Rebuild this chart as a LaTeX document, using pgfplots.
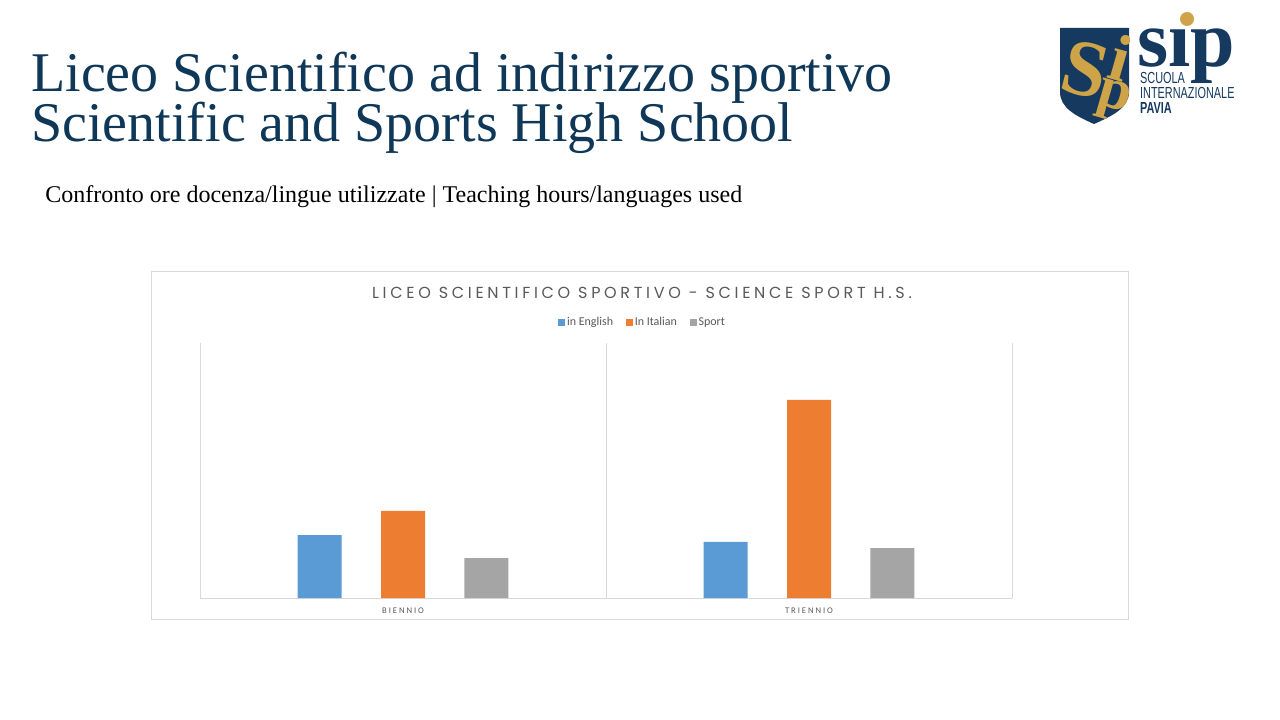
\documentclass[border=0pt]{standalone}
\usepackage{fontspec}
\setmainfont{Liberation Serif}
\newfontfamily\carlito{Carlito}
\newfontfamily\poppins[LetterSpace=23]{Poppins}
\newfontfamily\arial{Liberation Sans}
\newfontfamily\spacedcarlito[LetterSpace=22]{Carlito}
\usepackage{pgfplots}
\pgfplotsset{compat=1.18}
\definecolor{titleblue}{HTML}{0E3758}
\definecolor{navy}{HTML}{163A5F}
\definecolor{gold}{HTML}{CFA448}
\definecolor{cblue}{HTML}{5B9BD5}
\definecolor{corange}{HTML}{ED7D31}
\definecolor{cgray}{HTML}{A5A5A5}
\definecolor{gridc}{HTML}{D9D9D9}
\definecolor{txtgray}{HTML}{595959}
\begin{document}
\begin{tikzpicture}
\begin{scope}[x=0.75pt,y=-0.75pt]
  \fill[white] (0,0) rectangle (1280,720);
  % titles
  \node[anchor=base west,inner sep=0,text=titleblue,font=\fontsize{42}{37.5}\selectfont] at (31,92) {Liceo Scientifico ad indirizzo sportivo};
  \node[anchor=base west,inner sep=0,text=titleblue,font=\fontsize{42}{37.5}\selectfont] at (31,142) {Scientific and Sports High School};
  \node[anchor=base west,inner sep=0,text=black,font=\fontsize{18}{22}\selectfont] at (45,203) {Confronto ore docenza/lingue utilizzate | Teaching hours/languages used};
  % logo
  \begin{scope}
    \path[clip] (1060,28) -- (1129,28) -- (1129,92) .. controls (1129,108) and (1112,116) .. (1094,124) .. controls (1076,116) and (1060,108) .. (1060,92) -- cycle;
    \fill[navy] (1055,20) rectangle (1135,130);
    \node[anchor=base,rotate=-14,text=gold,inner sep=0,text height=0pt,text depth=0pt,font=\fontsize{60}{60}\selectfont\bfseries] at (1079,95) {S};
    \node[anchor=base,rotate=-16,text=gold,inner sep=0,text height=0pt,text depth=0pt,font=\fontsize{50}{50}\selectfont\bfseries] at (1114,80) {i};
    \node[anchor=base,rotate=-16,text=gold,inner sep=0,text height=0pt,text depth=0pt,font=\fontsize{44}{44}\selectfont\bfseries] at (1111,108) {p};
  \end{scope}
  \node[anchor=base west,inner sep=0,text depth=0pt,text=navy,font=\fontsize{60}{60}\selectfont\bfseries] at (1137,67) {sıp};
  \fill[gold] (1187,19) circle (7);
  \node[anchor=base west,inner sep=0,text depth=0pt,text=navy,xscale=0.68,font=\arial\fontsize{12}{12}\selectfont] at (1140,84) {SCUOLA};
  \node[anchor=base west,inner sep=0,text depth=0pt,text=navy,xscale=0.68,font=\arial\fontsize{12}{12}\selectfont] at (1140,99) {INTERNAZIONALE};
  \node[anchor=base west,inner sep=0,text depth=0pt,text=navy,xscale=0.68,font=\arial\fontsize{12}{12}\selectfont\bfseries] at (1140,114) {PAVIA};
  % chart frame
  \draw[gridc,line width=0.75pt] (151,271) rectangle (1128,619);
  \node[anchor=base,text=txtgray,inner sep=0,font=\poppins\fontsize{12}{12}\selectfont] at (642,298) {LICEO SCIENTIFICO SPORTIVO - SCIENCE SPORT H.S.};
  \coordinate (plotSW) at (200,598);
\end{scope}
\begin{axis}[
  at={(plotSW)}, anchor=south west,
  scale only axis, width=609pt, height=191.25pt,
  ybar, bar width=33pt,
  xmin=-0.5, xmax=1.5, ymin=0, ymax=73.5,
  enlargelimits=false,
  axis x line*=bottom, axis y line*=left,
  axis line style={draw=gridc, line width=0.75pt},
  xtick={0,1}, xticklabels={BIENNIO,TRIENNIO},
  ytick=\empty,
  minor xtick={-0.5,0.5,1.5}, xminorgrids=true,
  minor grid style={draw=gridc, line width=0.75pt},
  major tick length=0pt, minor tick length=0pt,
  xticklabel style={anchor=base, yshift=-11.4pt, font=\spacedcarlito\fontsize{6.5}{7}\selectfont, text=txtgray},
  legend columns=3,
  legend style={at={(0.545,1.082)}, anchor=center, draw=none, fill=none,
    font=\carlito\fontsize{9}{10}\selectfont, text=txtgray,
    /tikz/every even column/.append style={column sep=8pt},
    nodes={inner sep=1.5pt, text height=6.5pt, text depth=2pt}},
  legend image code/.code={\fill[#1,draw=none] (0pt,-2.6pt) rectangle (5.2pt,2.6pt);},
]
\addplot[draw=none, fill=cblue, bar shift=-62.6pt] coordinates {(0,18.1) (1,16.2)};
\addplot[draw=none, fill=corange, bar shift=0pt] coordinates {(0,25.1) (1,57.1)};
\addplot[draw=none, fill=cgray, bar shift=62.6pt] coordinates {(0,11.5) (1,14.4)};
\legend{in English, In Italian, Sport}
\end{axis}
\end{tikzpicture}
\end{document}
